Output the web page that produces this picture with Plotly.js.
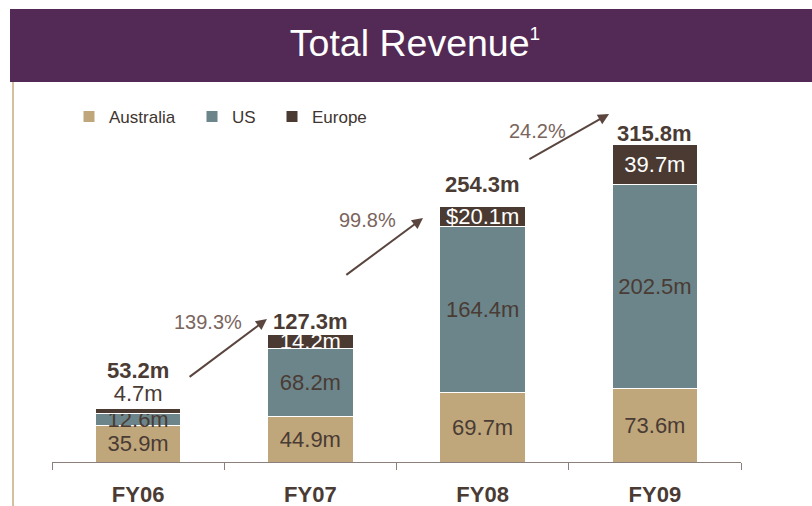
<!DOCTYPE html>
<html>
<head>
<meta charset="utf-8">
<script src="https://cdn.plot.ly/plotly-3.0.1.min.js"></script>
<style>html,body{margin:0;padding:0;background:#fff;}#chart{width:812px;height:506px;}</style>
</head>
<body>
<div id="chart"></div>
<script>
// ---- data ----
const categories = ['FY06', 'FY07', 'FY08', 'FY09'];
const australia = [35.9, 44.9, 69.7, 73.6];
const us = [12.6, 68.2, 164.4, 202.5];
const europe = [4.7, 14.2, 20.1, 39.7];
const totals = [53.2, 127.3, 254.3, 315.8];
const totalLabels = ['53.2m', '127.3m', '254.3m', '315.8m'];
const australiaLabels = ['35.9m', '44.9m', '69.7m', '73.6m'];
const usLabels = ['12.6m', '68.2m', '164.4m', '202.5m'];
const europeLabels = ['4.7m', '14.2m', '$20.1m', '39.7m'];
const growthLabels = ['139.3%', '99.8%', '24.2%'];

// ---- styles ----
const FONT = 'Liberation Sans, Arial, sans-serif';
const DARK = '#4A3B34';
const C_AUS = '#BFA77B';
const C_US = '#6B858A';
const C_EU = '#4B3A32';

function barTrace(name, y, text, color, legendId, extra) {
  return Object.assign({
    type: 'bar', name: name, x: categories, y: y, text: text, legend: legendId,
    textposition: 'inside', insidetextanchor: 'middle', textangle: 0,
    constraintext: 'none', cliponaxis: false,
    textfont: {family: FONT, size: 22, color: DARK},
    insidetextfont: {family: FONT, size: 22, color: DARK},
    marker: {color: color, line: {color: '#ffffff', width: 1}},
    hoverinfo: 'skip'
  }, extra || {});
}

const traces = [
  barTrace('Australia', australia, australiaLabels, C_AUS, 'legend'),
  barTrace('US', us, usLabels, C_US, 'legend2'),
  barTrace('Europe', europe, europeLabels, C_EU, 'legend3', {
    textposition: ['outside', 'inside', 'inside', 'inside'],
    insidetextfont: {family: FONT, size: 22, color: '#ffffff'},
    outsidetextfont: {family: FONT, size: 22, color: DARK}
  })
];

// label offsets (px above stack top)
const totalShift = [38, 13, 22, 11];
const annotations = categories.map((c, i) => ({
  xref: 'x', yref: 'y', x: c, y: totals[i], yanchor: 'middle', yshift: totalShift[i],
  text: totalLabels[i], showarrow: false,
  font: {family: FONT, size: 22, color: DARK, weight: 'bold'}
}));

// growth arrows (category index positions)
const arrowTail = [[0.29, 83.7], [1.20, 185.3], [2.263, 300.8]];
const arrowHead = [[0.748, 142.4], [1.654, 243.0], [2.734, 346.6]];
const growthPos = [[0.406, 139.4], [1.329, 241.0], [2.316, 329.7]];
growthLabels.forEach((g, i) => {
  annotations.push({
    xref: 'x', yref: 'y', axref: 'x', ayref: 'y',
    x: arrowHead[i][0], y: arrowHead[i][1], ax: arrowTail[i][0], ay: arrowTail[i][1],
    text: '', showarrow: true, arrowhead: 2, arrowsize: 1.1, arrowwidth: 2,
    arrowcolor: '#5A463F', standoff: 0, startstandoff: 0
  });
  annotations.push({
    xref: 'x', yref: 'y', x: growthPos[i][0], y: growthPos[i][1],
    text: g, showarrow: false,
    font: {family: FONT, size: 20, color: '#7A655D'}
  });
});

function legendAt(px) {
  return {
    orientation: 'h', x: (px - 52) / 689, xanchor: 'left', y: 0.908, yanchor: 'middle',
    font: {family: FONT, size: 17, color: '#403530'}, bgcolor: 'rgba(0,0,0,0)'
  };
}

const layout = {
  width: 812, height: 506,
  margin: {l: 52, r: 71, t: 82, b: 44, pad: 0},
  paper_bgcolor: '#ffffff', plot_bgcolor: '#ffffff',
  font: {family: FONT, color: DARK},
  barmode: 'stack', bargap: 0.503,
  showlegend: true,
  legend: legendAt(69),
  legend2: legendAt(192),
  legend3: legendAt(272),
  title: {
    text: 'Total Revenue<sup><span style="font-size:19px">1</span></sup>',
    xref: 'container', yref: 'container',
    x: 415 / 812, xanchor: 'center', y: 1 - 43 / 506, yanchor: 'middle',
    font: {family: FONT, size: 37.5, color: '#ffffff'}
  },
  xaxis: {
    type: 'category', range: [-0.5, 3.5], fixedrange: true,
    showline: true, linecolor: '#8A7F7A', linewidth: 1,
    ticks: 'outside', tickson: 'boundaries', ticklen: 7, tickcolor: '#8A7F7A', tickwidth: 1,
    showgrid: false, zeroline: false,
    tickfont: {family: FONT, size: 22, color: DARK, weight: 'bold'},
    ticklabelstandoff: 13
  },
  yaxis: {range: [0, 378.5], visible: false, fixedrange: true},
  shapes: [
    {type: 'rect', xref: 'paper', yref: 'paper', x0: (10 - 52) / 689, x1: (812 - 52) / 689,
     y0: 1.0, y1: (462 - 9) / 380, fillcolor: '#532A55', line: {width: 0}, layer: 'below'},
    {type: 'line', xref: 'paper', yref: 'paper', x0: (13 - 52) / 689, x1: (13 - 52) / 689,
     y0: 1.0, y1: (462 - 506) / 380, line: {color: '#D4C09E', width: 2}, layer: 'below'}
  ],
  annotations: annotations
};

Plotly.newPlot('chart', traces, layout, {displayModeBar: false, staticPlot: true});
</script>
</body>
</html>
